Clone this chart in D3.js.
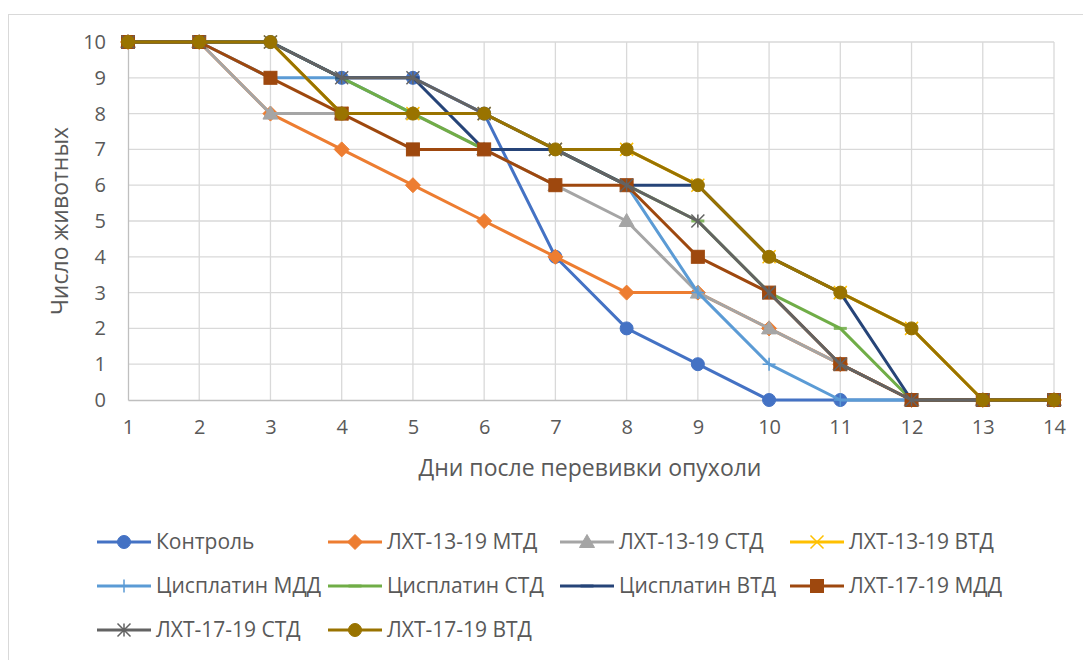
<!DOCTYPE html>
<html>
<head>
<meta charset="utf-8">
<script src="https://cdn.jsdelivr.net/npm/d3@7"></script>
<style>
  html, body { margin: 0; padding: 0; background: #fff; }
  svg { display: block; }
  text { font-family: "Open Sans", "Noto Sans", sans-serif; fill: #595959; }
</style>
</head>
<body>
<svg id="chart" width="1083" height="660"></svg>
<script>
// ---- data ----
const days = [1, 2, 3, 4, 5, 6, 7, 8, 9, 10, 11, 12, 13, 14];
const yTicks = [0, 1, 2, 3, 4, 5, 6, 7, 8, 9, 10];
const seriesNames = [
  "Контроль", "ЛХТ-13-19 МТД", "ЛХТ-13-19 СТД", "ЛХТ-13-19 ВТД",
  "Цисплатин МДД", "Цисплатин СТД", "Цисплатин ВТД", "ЛХТ-17-19 МДД",
  "ЛХТ-17-19 СТД", "ЛХТ-17-19 ВТД"
];
const kontrol      = [10, 10, 10, 9, 9, 8, 4, 2, 1, 0, 0, 0, 0, 0];
const lht1319MTD   = [10, 10, 8, 7, 6, 5, 4, 3, 3, 2, 1, 0, 0, 0];
const lht1319STD   = [10, 10, 8, 8, 8, 7, 6, 5, 3, 2, 1, 0, 0, 0];
const lht1319VTD   = [10, 10, 10, 8, 8, 8, 7, 7, 6, 4, 3, 2, 0, 0];
const cisMDD       = [10, 10, 9, 9, 8, 8, 7, 6, 3, 1, 0, 0, 0, 0];
const cisSTD       = [10, 10, 10, 9, 8, 7, 7, 6, 5, 3, 2, 0, 0, 0];
const cisVTD       = [10, 10, 10, 9, 9, 7, 7, 6, 6, 4, 3, 0, 0, 0];
const lht1719MDD   = [10, 10, 9, 8, 7, 7, 6, 6, 4, 3, 1, 0, 0, 0];
const lht1719STD   = [10, 10, 10, 9, 9, 8, 7, 6, 5, 3, 1, 0, 0, 0];
const lht1719VTD   = [10, 10, 10, 8, 8, 8, 7, 7, 6, 4, 3, 2, 0, 0];
const seriesValues = [kontrol, lht1319MTD, lht1319STD, lht1319VTD, cisMDD,
  cisSTD, cisVTD, lht1719MDD, lht1719STD, lht1719VTD];
const colors = ["#4472C4", "#ED7D31", "#A5A5A5", "#FFC000", "#5B9BD5",
  "#70AD47", "#264478", "#9E480E", "#636363", "#997300"];
const markers = ["circle", "diamond", "triangle", "x", "plus",
  "dash", "dash", "square", "star", "circle"];
const xTitle = "Дни после перевивки опухоли";
const yTitle = "Число животных";

// ---- layout ----
const svg = d3.select("#chart");
const L = 128, R = 1054, T = 42, B = 400;
const x = d3.scalePoint().domain(days).range([L, R]);
const y = d3.scaleLinear().domain([0, 10]).range([B, T]);

// chart border
svg.append("rect").attr("x", 8.5).attr("y", 14.5).attr("width", 1090).attr("height", 660)
  .attr("fill", "none").attr("stroke", "#D9D9D9").attr("stroke-width", 1);

// gridlines
const grid = svg.append("g");
grid.selectAll("line.h").data(yTicks.filter(d => d > 0)).join("line")
  .attr("x1", L).attr("x2", R).attr("y1", d => y(d)).attr("y2", d => y(d))
  .attr("stroke", "#D9D9D9").attr("stroke-width", 1.3);
grid.selectAll("line.v").data(days.slice(1)).join("line")
  .attr("x1", d => x(d)).attr("x2", d => x(d)).attr("y1", T).attr("y2", B)
  .attr("stroke", "#D9D9D9").attr("stroke-width", 1.3);

// axes
const xAxis = svg.append("g").attr("transform", `translate(0,${B})`)
  .call(d3.axisBottom(x).tickSize(0).tickPadding(20));
xAxis.select(".domain").attr("stroke", "#BFBFBF").attr("stroke-width", 1.3);
xAxis.selectAll("text").style("font-size", "20px").attr("fill", "#595959");
const yAxis = svg.append("g").attr("transform", `translate(${L},0)`)
  .call(d3.axisLeft(y).tickValues(yTicks).tickFormat(d3.format("d")).tickSize(0).tickPadding(22));
yAxis.select(".domain").attr("stroke", "#BFBFBF").attr("stroke-width", 1.3);
yAxis.selectAll("text").style("font-size", "20px").attr("fill", "#595959");

// titles
svg.append("text").attr("x", (L + R) / 2 - 1).attr("y", 476).attr("text-anchor", "middle")
  .style("font-size", "23px").text(xTitle);
svg.append("text").attr("transform", `translate(68,${221}) rotate(-90)`).attr("text-anchor", "middle")
  .style("font-size", "23px").text(yTitle);

// marker drawing
function drawMarker(g, type, color, cx, cy) {
  const s = 6.5;
  switch (type) {
    case "circle":
      g.append("circle").attr("cx", cx).attr("cy", cy).attr("r", s)
        .attr("fill", color).attr("stroke", color).attr("stroke-width", 1);
      break;
    case "square":
      g.append("rect").attr("x", cx - s).attr("y", cy - s).attr("width", 2 * s).attr("height", 2 * s)
        .attr("fill", color).attr("stroke", color).attr("stroke-width", 1);
      break;
    case "diamond":
      g.append("path").attr("d", `M${cx},${cy - s - 1}L${cx + s + 1},${cy}L${cx},${cy + s + 1}L${cx - s - 1},${cy}Z`)
        .attr("fill", color).attr("stroke", color).attr("stroke-width", 1);
      break;
    case "triangle":
      g.append("path").attr("d", `M${cx},${cy - s - 1}L${cx + s + 1},${cy + s - 1}L${cx - s - 1},${cy + s - 1}Z`)
        .attr("fill", color).attr("stroke", color).attr("stroke-width", 1);
      break;
    case "x":
      g.append("path").attr("d", `M${cx - s},${cy - s}L${cx + s},${cy + s}M${cx + s},${cy - s}L${cx - s},${cy + s}`)
        .attr("stroke", color).attr("stroke-width", 1.5).attr("fill", "none");
      break;
    case "plus":
      g.append("path").attr("d", `M${cx - s},${cy}L${cx + s},${cy}M${cx},${cy - s}L${cx},${cy + s}`)
        .attr("stroke", color).attr("stroke-width", 1.5).attr("fill", "none");
      break;
    case "dash":
      g.append("path").attr("d", `M${cx - s},${cy}L${cx + s},${cy}`)
        .attr("stroke", color).attr("stroke-width", 3).attr("fill", "none").attr("opacity", 0.85);
      break;
    case "star":
      g.append("path").attr("d", `M${cx - s},${cy - s}L${cx + s},${cy + s}M${cx + s},${cy - s}L${cx - s},${cy + s}M${cx},${cy - s}L${cx},${cy + s}`)
        .attr("stroke", color).attr("stroke-width", 1.5).attr("fill", "none");
      break;
  }
}

// series
const line = d3.line().x(d => x(d.day)).y(d => y(d.v));
seriesValues.forEach((vals, i) => {
  const pts = days.map((d, j) => ({ day: d, v: vals[j] }));
  const g = svg.append("g");
  g.append("path").datum(pts).attr("d", line).attr("fill", "none")
    .attr("stroke", colors[i]).attr("stroke-width", 3).attr("stroke-linejoin", "round");
  pts.forEach(p => drawMarker(g, markers[i], colors[i], x(p.day), y(p.v)));
});

// legend
const legX = [97, 328, 560, 790];
const legY = [542, 586, 630];
seriesNames.forEach((name, i) => {
  const col = i % 4, row = Math.floor(i / 4);
  const lx = legX[col], ly = legY[row];
  const g = svg.append("g");
  g.append("line").attr("x1", lx).attr("x2", lx + 54).attr("y1", ly).attr("y2", ly)
    .attr("stroke", colors[i]).attr("stroke-width", 3);
  drawMarker(g, markers[i], colors[i], lx + 27, ly);
  g.append("text").attr("x", lx + 59).attr("y", ly).attr("dy", "0.35em")
    .style("font-size", "21px").text(name);
});
</script>
</body>
</html>
